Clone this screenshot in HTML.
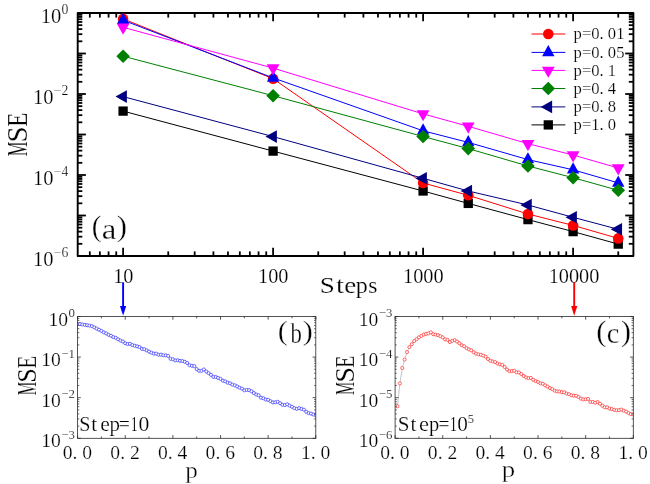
<!DOCTYPE html>
<html><head><meta charset="utf-8"><title>MSE vs Steps</title>
<style>html,body{margin:0;padding:0;background:#fff;}svg{display:block;}text{font-family:"Liberation Serif",serif;stroke:#fff;stroke-width:0.2px;paint-order:fill stroke;}.big text{stroke-width:0.3px;}</style></head>
<body>
<svg width="650" height="484" viewBox="0 0 650 484" font-family='"Liberation Serif", serif' style="will-change:transform">
<rect x="0" y="0" width="650" height="484" fill="#fff"/>
<g stroke="#000" stroke-width="1.8" fill="none">
<line x1="77.7" y1="41.31" x2="82.3" y2="41.31"/>
<line x1="633.4" y1="41.31" x2="628.8" y2="41.31"/>
<line x1="77.7" y1="34.18" x2="82.3" y2="34.18"/>
<line x1="633.4" y1="34.18" x2="628.8" y2="34.18"/>
<line x1="77.7" y1="29.12" x2="82.3" y2="29.12"/>
<line x1="633.4" y1="29.12" x2="628.8" y2="29.12"/>
<line x1="77.7" y1="25.19" x2="82.3" y2="25.19"/>
<line x1="633.4" y1="25.19" x2="628.8" y2="25.19"/>
<line x1="77.7" y1="21.98" x2="82.3" y2="21.98"/>
<line x1="633.4" y1="21.98" x2="628.8" y2="21.98"/>
<line x1="77.7" y1="19.27" x2="82.3" y2="19.27"/>
<line x1="633.4" y1="19.27" x2="628.8" y2="19.27"/>
<line x1="77.7" y1="16.92" x2="82.3" y2="16.92"/>
<line x1="633.4" y1="16.92" x2="628.8" y2="16.92"/>
<line x1="77.7" y1="14.85" x2="82.3" y2="14.85"/>
<line x1="633.4" y1="14.85" x2="628.8" y2="14.85"/>
<line x1="77.7" y1="53.50" x2="85.9" y2="53.50"/>
<line x1="633.4" y1="53.50" x2="625.1999999999999" y2="53.50"/>
<line x1="77.7" y1="81.81" x2="82.3" y2="81.81"/>
<line x1="633.4" y1="81.81" x2="628.8" y2="81.81"/>
<line x1="77.7" y1="74.68" x2="82.3" y2="74.68"/>
<line x1="633.4" y1="74.68" x2="628.8" y2="74.68"/>
<line x1="77.7" y1="69.62" x2="82.3" y2="69.62"/>
<line x1="633.4" y1="69.62" x2="628.8" y2="69.62"/>
<line x1="77.7" y1="65.69" x2="82.3" y2="65.69"/>
<line x1="633.4" y1="65.69" x2="628.8" y2="65.69"/>
<line x1="77.7" y1="62.48" x2="82.3" y2="62.48"/>
<line x1="633.4" y1="62.48" x2="628.8" y2="62.48"/>
<line x1="77.7" y1="59.77" x2="82.3" y2="59.77"/>
<line x1="633.4" y1="59.77" x2="628.8" y2="59.77"/>
<line x1="77.7" y1="57.42" x2="82.3" y2="57.42"/>
<line x1="633.4" y1="57.42" x2="628.8" y2="57.42"/>
<line x1="77.7" y1="55.35" x2="82.3" y2="55.35"/>
<line x1="633.4" y1="55.35" x2="628.8" y2="55.35"/>
<line x1="77.7" y1="94.00" x2="85.9" y2="94.00"/>
<line x1="633.4" y1="94.00" x2="625.1999999999999" y2="94.00"/>
<line x1="77.7" y1="122.31" x2="82.3" y2="122.31"/>
<line x1="633.4" y1="122.31" x2="628.8" y2="122.31"/>
<line x1="77.7" y1="115.18" x2="82.3" y2="115.18"/>
<line x1="633.4" y1="115.18" x2="628.8" y2="115.18"/>
<line x1="77.7" y1="110.12" x2="82.3" y2="110.12"/>
<line x1="633.4" y1="110.12" x2="628.8" y2="110.12"/>
<line x1="77.7" y1="106.19" x2="82.3" y2="106.19"/>
<line x1="633.4" y1="106.19" x2="628.8" y2="106.19"/>
<line x1="77.7" y1="102.98" x2="82.3" y2="102.98"/>
<line x1="633.4" y1="102.98" x2="628.8" y2="102.98"/>
<line x1="77.7" y1="100.27" x2="82.3" y2="100.27"/>
<line x1="633.4" y1="100.27" x2="628.8" y2="100.27"/>
<line x1="77.7" y1="97.92" x2="82.3" y2="97.92"/>
<line x1="633.4" y1="97.92" x2="628.8" y2="97.92"/>
<line x1="77.7" y1="95.85" x2="82.3" y2="95.85"/>
<line x1="633.4" y1="95.85" x2="628.8" y2="95.85"/>
<line x1="77.7" y1="134.50" x2="85.9" y2="134.50"/>
<line x1="633.4" y1="134.50" x2="625.1999999999999" y2="134.50"/>
<line x1="77.7" y1="162.81" x2="82.3" y2="162.81"/>
<line x1="633.4" y1="162.81" x2="628.8" y2="162.81"/>
<line x1="77.7" y1="155.68" x2="82.3" y2="155.68"/>
<line x1="633.4" y1="155.68" x2="628.8" y2="155.68"/>
<line x1="77.7" y1="150.62" x2="82.3" y2="150.62"/>
<line x1="633.4" y1="150.62" x2="628.8" y2="150.62"/>
<line x1="77.7" y1="146.69" x2="82.3" y2="146.69"/>
<line x1="633.4" y1="146.69" x2="628.8" y2="146.69"/>
<line x1="77.7" y1="143.48" x2="82.3" y2="143.48"/>
<line x1="633.4" y1="143.48" x2="628.8" y2="143.48"/>
<line x1="77.7" y1="140.77" x2="82.3" y2="140.77"/>
<line x1="633.4" y1="140.77" x2="628.8" y2="140.77"/>
<line x1="77.7" y1="138.42" x2="82.3" y2="138.42"/>
<line x1="633.4" y1="138.42" x2="628.8" y2="138.42"/>
<line x1="77.7" y1="136.35" x2="82.3" y2="136.35"/>
<line x1="633.4" y1="136.35" x2="628.8" y2="136.35"/>
<line x1="77.7" y1="175.00" x2="85.9" y2="175.00"/>
<line x1="633.4" y1="175.00" x2="625.1999999999999" y2="175.00"/>
<line x1="77.7" y1="203.31" x2="82.3" y2="203.31"/>
<line x1="633.4" y1="203.31" x2="628.8" y2="203.31"/>
<line x1="77.7" y1="196.18" x2="82.3" y2="196.18"/>
<line x1="633.4" y1="196.18" x2="628.8" y2="196.18"/>
<line x1="77.7" y1="191.12" x2="82.3" y2="191.12"/>
<line x1="633.4" y1="191.12" x2="628.8" y2="191.12"/>
<line x1="77.7" y1="187.19" x2="82.3" y2="187.19"/>
<line x1="633.4" y1="187.19" x2="628.8" y2="187.19"/>
<line x1="77.7" y1="183.98" x2="82.3" y2="183.98"/>
<line x1="633.4" y1="183.98" x2="628.8" y2="183.98"/>
<line x1="77.7" y1="181.27" x2="82.3" y2="181.27"/>
<line x1="633.4" y1="181.27" x2="628.8" y2="181.27"/>
<line x1="77.7" y1="178.92" x2="82.3" y2="178.92"/>
<line x1="633.4" y1="178.92" x2="628.8" y2="178.92"/>
<line x1="77.7" y1="176.85" x2="82.3" y2="176.85"/>
<line x1="633.4" y1="176.85" x2="628.8" y2="176.85"/>
<line x1="77.7" y1="215.50" x2="85.9" y2="215.50"/>
<line x1="633.4" y1="215.50" x2="625.1999999999999" y2="215.50"/>
<line x1="77.7" y1="243.81" x2="82.3" y2="243.81"/>
<line x1="633.4" y1="243.81" x2="628.8" y2="243.81"/>
<line x1="77.7" y1="236.68" x2="82.3" y2="236.68"/>
<line x1="633.4" y1="236.68" x2="628.8" y2="236.68"/>
<line x1="77.7" y1="231.62" x2="82.3" y2="231.62"/>
<line x1="633.4" y1="231.62" x2="628.8" y2="231.62"/>
<line x1="77.7" y1="227.69" x2="82.3" y2="227.69"/>
<line x1="633.4" y1="227.69" x2="628.8" y2="227.69"/>
<line x1="77.7" y1="224.48" x2="82.3" y2="224.48"/>
<line x1="633.4" y1="224.48" x2="628.8" y2="224.48"/>
<line x1="77.7" y1="221.77" x2="82.3" y2="221.77"/>
<line x1="633.4" y1="221.77" x2="628.8" y2="221.77"/>
<line x1="77.7" y1="219.42" x2="82.3" y2="219.42"/>
<line x1="633.4" y1="219.42" x2="628.8" y2="219.42"/>
<line x1="77.7" y1="217.35" x2="82.3" y2="217.35"/>
<line x1="633.4" y1="217.35" x2="628.8" y2="217.35"/>
<line x1="89.82" y1="256.0" x2="89.82" y2="251.4"/>
<line x1="89.82" y1="13.0" x2="89.82" y2="17.6"/>
<line x1="99.86" y1="256.0" x2="99.86" y2="251.4"/>
<line x1="99.86" y1="13.0" x2="99.86" y2="17.6"/>
<line x1="108.56" y1="256.0" x2="108.56" y2="251.4"/>
<line x1="108.56" y1="13.0" x2="108.56" y2="17.6"/>
<line x1="116.24" y1="256.0" x2="116.24" y2="251.4"/>
<line x1="116.24" y1="13.0" x2="116.24" y2="17.6"/>
<line x1="123.10" y1="256.0" x2="123.10" y2="247.8"/>
<line x1="123.10" y1="13.0" x2="123.10" y2="21.2"/>
<line x1="168.25" y1="256.0" x2="168.25" y2="251.4"/>
<line x1="168.25" y1="13.0" x2="168.25" y2="17.6"/>
<line x1="194.67" y1="256.0" x2="194.67" y2="251.4"/>
<line x1="194.67" y1="13.0" x2="194.67" y2="17.6"/>
<line x1="213.41" y1="256.0" x2="213.41" y2="251.4"/>
<line x1="213.41" y1="13.0" x2="213.41" y2="17.6"/>
<line x1="227.95" y1="256.0" x2="227.95" y2="251.4"/>
<line x1="227.95" y1="13.0" x2="227.95" y2="17.6"/>
<line x1="239.82" y1="256.0" x2="239.82" y2="251.4"/>
<line x1="239.82" y1="13.0" x2="239.82" y2="17.6"/>
<line x1="249.86" y1="256.0" x2="249.86" y2="251.4"/>
<line x1="249.86" y1="13.0" x2="249.86" y2="17.6"/>
<line x1="258.56" y1="256.0" x2="258.56" y2="251.4"/>
<line x1="258.56" y1="13.0" x2="258.56" y2="17.6"/>
<line x1="266.24" y1="256.0" x2="266.24" y2="251.4"/>
<line x1="266.24" y1="13.0" x2="266.24" y2="17.6"/>
<line x1="273.10" y1="256.0" x2="273.10" y2="247.8"/>
<line x1="273.10" y1="13.0" x2="273.10" y2="21.2"/>
<line x1="318.25" y1="256.0" x2="318.25" y2="251.4"/>
<line x1="318.25" y1="13.0" x2="318.25" y2="17.6"/>
<line x1="344.67" y1="256.0" x2="344.67" y2="251.4"/>
<line x1="344.67" y1="13.0" x2="344.67" y2="17.6"/>
<line x1="363.41" y1="256.0" x2="363.41" y2="251.4"/>
<line x1="363.41" y1="13.0" x2="363.41" y2="17.6"/>
<line x1="377.95" y1="256.0" x2="377.95" y2="251.4"/>
<line x1="377.95" y1="13.0" x2="377.95" y2="17.6"/>
<line x1="389.82" y1="256.0" x2="389.82" y2="251.4"/>
<line x1="389.82" y1="13.0" x2="389.82" y2="17.6"/>
<line x1="399.86" y1="256.0" x2="399.86" y2="251.4"/>
<line x1="399.86" y1="13.0" x2="399.86" y2="17.6"/>
<line x1="408.56" y1="256.0" x2="408.56" y2="251.4"/>
<line x1="408.56" y1="13.0" x2="408.56" y2="17.6"/>
<line x1="416.24" y1="256.0" x2="416.24" y2="251.4"/>
<line x1="416.24" y1="13.0" x2="416.24" y2="17.6"/>
<line x1="423.10" y1="256.0" x2="423.10" y2="247.8"/>
<line x1="423.10" y1="13.0" x2="423.10" y2="21.2"/>
<line x1="468.25" y1="256.0" x2="468.25" y2="251.4"/>
<line x1="468.25" y1="13.0" x2="468.25" y2="17.6"/>
<line x1="494.67" y1="256.0" x2="494.67" y2="251.4"/>
<line x1="494.67" y1="13.0" x2="494.67" y2="17.6"/>
<line x1="513.41" y1="256.0" x2="513.41" y2="251.4"/>
<line x1="513.41" y1="13.0" x2="513.41" y2="17.6"/>
<line x1="527.95" y1="256.0" x2="527.95" y2="251.4"/>
<line x1="527.95" y1="13.0" x2="527.95" y2="17.6"/>
<line x1="539.82" y1="256.0" x2="539.82" y2="251.4"/>
<line x1="539.82" y1="13.0" x2="539.82" y2="17.6"/>
<line x1="549.86" y1="256.0" x2="549.86" y2="251.4"/>
<line x1="549.86" y1="13.0" x2="549.86" y2="17.6"/>
<line x1="558.56" y1="256.0" x2="558.56" y2="251.4"/>
<line x1="558.56" y1="13.0" x2="558.56" y2="17.6"/>
<line x1="566.24" y1="256.0" x2="566.24" y2="251.4"/>
<line x1="566.24" y1="13.0" x2="566.24" y2="17.6"/>
<line x1="573.10" y1="256.0" x2="573.10" y2="247.8"/>
<line x1="573.10" y1="13.0" x2="573.10" y2="21.2"/>
<line x1="618.25" y1="256.0" x2="618.25" y2="251.4"/>
<line x1="618.25" y1="13.0" x2="618.25" y2="17.6"/>
</g>
<rect x="77.7" y="13.0" width="555.70" height="243.00" fill="none" stroke="#000" stroke-width="1.9" stroke-linejoin="round"/>
<polyline points="123.10,111.10 273.10,151.10 423.10,191.00 468.25,203.40 527.95,219.60 573.10,231.60 618.25,244.10" fill="none" stroke="#000000" stroke-width="1.0"/>
<rect x="118.45" y="106.45" width="9.30" height="9.30" fill="#000000"/>
<rect x="268.45" y="146.45" width="9.30" height="9.30" fill="#000000"/>
<rect x="418.45" y="186.35" width="9.30" height="9.30" fill="#000000"/>
<rect x="463.60" y="198.75" width="9.30" height="9.30" fill="#000000"/>
<rect x="523.30" y="214.95" width="9.30" height="9.30" fill="#000000"/>
<rect x="568.45" y="226.95" width="9.30" height="9.30" fill="#000000"/>
<rect x="613.60" y="239.45" width="9.30" height="9.30" fill="#000000"/>
<polyline points="123.10,18.90 273.10,78.70 423.10,183.00 468.25,195.30 527.95,214.00 573.10,225.40 618.25,238.40" fill="none" stroke="#ff0000" stroke-width="1.0"/>
<circle cx="123.10" cy="18.90" r="5.3" fill="#ff0000"/>
<circle cx="273.10" cy="78.70" r="5.3" fill="#ff0000"/>
<circle cx="423.10" cy="183.00" r="5.3" fill="#ff0000"/>
<circle cx="468.25" cy="195.30" r="5.3" fill="#ff0000"/>
<circle cx="527.95" cy="214.00" r="5.3" fill="#ff0000"/>
<circle cx="573.10" cy="225.40" r="5.3" fill="#ff0000"/>
<circle cx="618.25" cy="238.40" r="5.3" fill="#ff0000"/>
<polyline points="123.10,20.20 273.10,77.90 423.10,130.80 468.25,142.40 527.95,159.60 573.10,169.80 618.25,182.90" fill="none" stroke="#0000ff" stroke-width="1.0"/>
<polygon points="123.10,12.73 116.90,23.93 129.30,23.93" fill="#0000ff"/>
<polygon points="273.10,70.43 266.90,81.63 279.30,81.63" fill="#0000ff"/>
<polygon points="423.10,123.33 416.90,134.53 429.30,134.53" fill="#0000ff"/>
<polygon points="468.25,134.93 462.05,146.13 474.45,146.13" fill="#0000ff"/>
<polygon points="527.95,152.13 521.75,163.33 534.15,163.33" fill="#0000ff"/>
<polygon points="573.10,162.33 566.90,173.53 579.30,173.53" fill="#0000ff"/>
<polygon points="618.25,175.43 612.05,186.63 624.45,186.63" fill="#0000ff"/>
<polyline points="123.10,27.30 273.10,68.10 423.10,113.90 468.25,126.30 527.95,143.70 573.10,155.00 618.25,168.00" fill="none" stroke="#ff00ff" stroke-width="1.0"/>
<polygon points="123.10,34.77 116.70,23.57 129.50,23.57" fill="#ff00ff"/>
<polygon points="273.10,75.57 266.70,64.37 279.50,64.37" fill="#ff00ff"/>
<polygon points="423.10,121.37 416.70,110.17 429.50,110.17" fill="#ff00ff"/>
<polygon points="468.25,133.77 461.85,122.57 474.65,122.57" fill="#ff00ff"/>
<polygon points="527.95,151.17 521.55,139.97 534.35,139.97" fill="#ff00ff"/>
<polygon points="573.10,162.47 566.70,151.27 579.50,151.27" fill="#ff00ff"/>
<polygon points="618.25,175.47 611.85,164.27 624.65,164.27" fill="#ff00ff"/>
<polyline points="123.10,56.20 273.10,95.70 423.10,136.50 468.25,148.60 527.95,166.00 573.10,177.70 618.25,190.30" fill="none" stroke="#008000" stroke-width="1.0"/>
<polygon points="123.10,49.40 129.90,56.20 123.10,63.00 116.30,56.20" fill="#008000"/>
<polygon points="273.10,88.90 279.90,95.70 273.10,102.50 266.30,95.70" fill="#008000"/>
<polygon points="423.10,129.70 429.90,136.50 423.10,143.30 416.30,136.50" fill="#008000"/>
<polygon points="468.25,141.80 475.05,148.60 468.25,155.40 461.45,148.60" fill="#008000"/>
<polygon points="527.95,159.20 534.75,166.00 527.95,172.80 521.15,166.00" fill="#008000"/>
<polygon points="573.10,170.90 579.90,177.70 573.10,184.50 566.30,177.70" fill="#008000"/>
<polygon points="618.25,183.50 625.05,190.30 618.25,197.10 611.45,190.30" fill="#008000"/>
<polyline points="123.10,96.60 273.10,136.60 423.10,178.30 468.25,191.00 527.95,205.00 573.10,217.30 618.25,229.30" fill="none" stroke="#000080" stroke-width="1.0"/>
<polygon points="115.50,96.60 126.90,90.30 126.90,102.90" fill="#000080"/>
<polygon points="265.50,136.60 276.90,130.30 276.90,142.90" fill="#000080"/>
<polygon points="415.50,178.30 426.90,172.00 426.90,184.60" fill="#000080"/>
<polygon points="460.65,191.00 472.05,184.70 472.05,197.30" fill="#000080"/>
<polygon points="520.35,205.00 531.75,198.70 531.75,211.30" fill="#000080"/>
<polygon points="565.50,217.30 576.90,211.00 576.90,223.60" fill="#000080"/>
<polygon points="610.65,229.30 622.05,223.00 622.05,235.60" fill="#000080"/>
<text x="68.30" y="14.20" font-size="13.7" text-anchor="end" fill="#000" >0</text>
<text x="61.15" y="22.80" font-size="20.5" text-anchor="end" fill="#000" >10</text>
<text x="68.30" y="95.20" font-size="13.7" text-anchor="end" fill="#000" >−2</text>
<text x="53.42" y="103.80" font-size="20.5" text-anchor="end" fill="#000" >10</text>
<text x="68.30" y="176.20" font-size="13.7" text-anchor="end" fill="#000" >−4</text>
<text x="53.42" y="184.80" font-size="20.5" text-anchor="end" fill="#000" >10</text>
<text x="68.30" y="257.20" font-size="13.7" text-anchor="end" fill="#000" >−6</text>
<text x="53.42" y="265.80" font-size="20.5" text-anchor="end" fill="#000" >10</text>
<text x="123.30" y="282.90" font-size="20.3" text-anchor="middle" fill="#000" >10</text>
<text x="273.30" y="282.90" font-size="20.3" text-anchor="middle" fill="#000" >100</text>
<text x="423.30" y="282.90" font-size="20.3" text-anchor="middle" fill="#000" >1000</text>
<text x="574.00" y="282.90" font-size="20.3" text-anchor="middle" fill="#000" >10000</text>
<text transform="translate(319.68,292.60) scale(1.186,1.0)" font-size="22.9">S</text>
<text transform="translate(335.92,292.60) scale(1.266,1.0)" font-size="22.9">t</text>
<text transform="translate(344.34,292.60) scale(1.180,1.0)" font-size="22.9">e</text>
<text transform="translate(355.81,292.60) scale(1.050,1.0)" font-size="22.9">p</text>
<text transform="translate(368.23,292.60) scale(1.036,1.0)" font-size="22.9">s</text>
<text transform="translate(27.20,156.18) rotate(-90) scale(0.567,1)" font-size="29.3">M</text>
<text transform="translate(27.20,142.43) rotate(-90) scale(0.983,1)" font-size="29.3">S</text>
<text transform="translate(27.20,126.67) rotate(-90) scale(0.789,1)" font-size="29.3">E</text>
<g class="big">
<text transform="translate(91.72,235.90) scale(1.014,1.0)" font-size="28.8">(</text>
<text transform="translate(101.84,238.80) scale(1.112,1.0)" font-size="29.6">a</text>
<text transform="translate(116.81,235.90) scale(1.068,1.0)" font-size="28.8">)</text>
<text transform="translate(277.87,340.00) scale(1.081,1.0)" font-size="28.1">(</text>
<text transform="translate(290.40,342.60) scale(0.781,1.0)" font-size="29.1">b</text>
<text transform="translate(302.72,340.00) scale(1.081,1.0)" font-size="28.1">)</text>
<text transform="translate(596.15,340.50) scale(1.068,1.0)" font-size="28.8">(</text>
<text transform="translate(606.72,343.40) scale(0.942,1.0)" font-size="30.0">c</text>
<text transform="translate(620.93,340.50) scale(1.041,1.0)" font-size="28.8">)</text>
</g>
<line x1="531.5" y1="34.0" x2="565.3" y2="34.0" stroke="#ff0000" stroke-width="1.0"/>
<circle cx="548.30" cy="34.00" r="5.3" fill="#ff0000"/>
<text x="573.60" y="39.40" font-size="16.6" text-anchor="start" fill="#000" >p=0. 01</text>
<line x1="531.5" y1="52.4" x2="565.3" y2="52.4" stroke="#0000ff" stroke-width="1.0"/>
<polygon points="548.30,44.93 542.10,56.13 554.50,56.13" fill="#0000ff"/>
<text x="573.60" y="57.80" font-size="16.6" text-anchor="start" fill="#000" >p=0. 05</text>
<line x1="531.5" y1="70.4" x2="565.3" y2="70.4" stroke="#ff00ff" stroke-width="1.0"/>
<polygon points="548.30,77.87 541.90,66.67 554.70,66.67" fill="#ff00ff"/>
<text x="573.60" y="75.80" font-size="16.6" text-anchor="start" fill="#000" >p=0. 1</text>
<line x1="531.5" y1="88.5" x2="565.3" y2="88.5" stroke="#008000" stroke-width="1.0"/>
<polygon points="548.30,81.70 555.10,88.50 548.30,95.30 541.50,88.50" fill="#008000"/>
<text x="573.60" y="93.90" font-size="16.6" text-anchor="start" fill="#000" >p=0. 4</text>
<line x1="531.5" y1="106.9" x2="565.3" y2="106.9" stroke="#000080" stroke-width="1.0"/>
<polygon points="540.70,106.90 552.10,100.60 552.10,113.20" fill="#000080"/>
<text x="573.60" y="112.30" font-size="16.6" text-anchor="start" fill="#000" >p=0. 8</text>
<line x1="531.5" y1="124.9" x2="565.3" y2="124.9" stroke="#000000" stroke-width="1.0"/>
<rect x="543.65" y="120.25" width="9.30" height="9.30" fill="#000000"/>
<text x="573.60" y="130.30" font-size="16.6" text-anchor="start" fill="#000" >p=1. 0</text>
<line x1="123.1" y1="282.3" x2="123.1" y2="307.8" stroke="#0000ff" stroke-width="1.9"/>
<polygon points="120.0,306.0 126.19999999999999,306.0 123.1,315.8" fill="#0000ff"/>
<line x1="574.2" y1="282.3" x2="574.2" y2="307.8" stroke="#ff0000" stroke-width="1.9"/>
<polygon points="571.1,306.0 577.3000000000001,306.0 574.2,315.8" fill="#ff0000"/>
<clipPath id="clip3"><rect x="77.6" y="316.5" width="238.20" height="121.80"/></clipPath>
<g clip-path="url(#clip3)">
<polyline points="79.98,324.08 82.36,324.45 84.75,324.81 87.13,325.18 89.51,325.55 91.89,326.17 94.27,327.36 96.66,328.56 99.04,329.73 101.42,330.92 103.80,332.37 106.18,333.42 108.57,334.80 110.95,335.78 113.33,337.08 115.71,337.76 118.09,339.27 120.48,340.61 122.86,341.51 125.24,343.19 127.62,344.04 130.00,343.84 132.39,345.08 134.77,345.74 137.15,346.38 139.53,347.05 141.91,348.84 144.30,349.20 146.68,350.33 149.06,351.68 151.44,352.67 153.82,353.63 156.21,353.64 158.59,354.69 160.97,354.61 163.35,355.28 165.73,355.34 168.12,355.88 170.50,358.87 172.88,359.29 175.26,360.44 177.64,360.20 180.03,360.86 182.41,361.03 184.79,361.80 187.17,362.94 189.55,365.23 191.94,365.80 194.32,366.10 196.70,369.07 199.08,370.84 201.46,370.88 203.85,369.46 206.23,371.50 208.61,373.15 210.99,374.87 213.37,376.90 215.76,377.01 218.14,377.86 220.52,378.85 222.90,380.70 225.28,381.32 227.67,382.67 230.05,383.29 232.43,384.62 234.81,385.34 237.19,386.47 239.58,387.73 241.96,388.63 244.34,390.33 246.72,389.90 249.10,390.13 251.49,391.30 253.87,393.05 256.25,394.55 258.63,395.25 261.01,397.67 263.40,398.22 265.78,399.57 268.16,399.83 270.54,401.18 272.92,402.39 275.31,402.27 277.69,401.79 280.07,403.23 282.45,404.79 284.83,405.07 287.22,404.33 289.60,405.56 291.98,406.84 294.36,408.18 296.74,408.83 299.13,408.16 301.51,408.95 303.89,409.69 306.27,411.77 308.65,413.11 311.04,413.61 313.42,414.49 315.80,415.32" fill="none" stroke="#888" stroke-width="0.5"/>
<g fill="#fff" stroke="#3030ff" stroke-width="0.7">
<circle cx="79.98" cy="324.08" r="1.55"/>
<circle cx="82.36" cy="324.45" r="1.55"/>
<circle cx="84.75" cy="324.81" r="1.55"/>
<circle cx="87.13" cy="325.18" r="1.55"/>
<circle cx="89.51" cy="325.55" r="1.55"/>
<circle cx="91.89" cy="326.17" r="1.55"/>
<circle cx="94.27" cy="327.36" r="1.55"/>
<circle cx="96.66" cy="328.56" r="1.55"/>
<circle cx="99.04" cy="329.73" r="1.55"/>
<circle cx="101.42" cy="330.92" r="1.55"/>
<circle cx="103.80" cy="332.37" r="1.55"/>
<circle cx="106.18" cy="333.42" r="1.55"/>
<circle cx="108.57" cy="334.80" r="1.55"/>
<circle cx="110.95" cy="335.78" r="1.55"/>
<circle cx="113.33" cy="337.08" r="1.55"/>
<circle cx="115.71" cy="337.76" r="1.55"/>
<circle cx="118.09" cy="339.27" r="1.55"/>
<circle cx="120.48" cy="340.61" r="1.55"/>
<circle cx="122.86" cy="341.51" r="1.55"/>
<circle cx="125.24" cy="343.19" r="1.55"/>
<circle cx="127.62" cy="344.04" r="1.55"/>
<circle cx="130.00" cy="343.84" r="1.55"/>
<circle cx="132.39" cy="345.08" r="1.55"/>
<circle cx="134.77" cy="345.74" r="1.55"/>
<circle cx="137.15" cy="346.38" r="1.55"/>
<circle cx="139.53" cy="347.05" r="1.55"/>
<circle cx="141.91" cy="348.84" r="1.55"/>
<circle cx="144.30" cy="349.20" r="1.55"/>
<circle cx="146.68" cy="350.33" r="1.55"/>
<circle cx="149.06" cy="351.68" r="1.55"/>
<circle cx="151.44" cy="352.67" r="1.55"/>
<circle cx="153.82" cy="353.63" r="1.55"/>
<circle cx="156.21" cy="353.64" r="1.55"/>
<circle cx="158.59" cy="354.69" r="1.55"/>
<circle cx="160.97" cy="354.61" r="1.55"/>
<circle cx="163.35" cy="355.28" r="1.55"/>
<circle cx="165.73" cy="355.34" r="1.55"/>
<circle cx="168.12" cy="355.88" r="1.55"/>
<circle cx="170.50" cy="358.87" r="1.55"/>
<circle cx="172.88" cy="359.29" r="1.55"/>
<circle cx="175.26" cy="360.44" r="1.55"/>
<circle cx="177.64" cy="360.20" r="1.55"/>
<circle cx="180.03" cy="360.86" r="1.55"/>
<circle cx="182.41" cy="361.03" r="1.55"/>
<circle cx="184.79" cy="361.80" r="1.55"/>
<circle cx="187.17" cy="362.94" r="1.55"/>
<circle cx="189.55" cy="365.23" r="1.55"/>
<circle cx="191.94" cy="365.80" r="1.55"/>
<circle cx="194.32" cy="366.10" r="1.55"/>
<circle cx="196.70" cy="369.07" r="1.55"/>
<circle cx="199.08" cy="370.84" r="1.55"/>
<circle cx="201.46" cy="370.88" r="1.55"/>
<circle cx="203.85" cy="369.46" r="1.55"/>
<circle cx="206.23" cy="371.50" r="1.55"/>
<circle cx="208.61" cy="373.15" r="1.55"/>
<circle cx="210.99" cy="374.87" r="1.55"/>
<circle cx="213.37" cy="376.90" r="1.55"/>
<circle cx="215.76" cy="377.01" r="1.55"/>
<circle cx="218.14" cy="377.86" r="1.55"/>
<circle cx="220.52" cy="378.85" r="1.55"/>
<circle cx="222.90" cy="380.70" r="1.55"/>
<circle cx="225.28" cy="381.32" r="1.55"/>
<circle cx="227.67" cy="382.67" r="1.55"/>
<circle cx="230.05" cy="383.29" r="1.55"/>
<circle cx="232.43" cy="384.62" r="1.55"/>
<circle cx="234.81" cy="385.34" r="1.55"/>
<circle cx="237.19" cy="386.47" r="1.55"/>
<circle cx="239.58" cy="387.73" r="1.55"/>
<circle cx="241.96" cy="388.63" r="1.55"/>
<circle cx="244.34" cy="390.33" r="1.55"/>
<circle cx="246.72" cy="389.90" r="1.55"/>
<circle cx="249.10" cy="390.13" r="1.55"/>
<circle cx="251.49" cy="391.30" r="1.55"/>
<circle cx="253.87" cy="393.05" r="1.55"/>
<circle cx="256.25" cy="394.55" r="1.55"/>
<circle cx="258.63" cy="395.25" r="1.55"/>
<circle cx="261.01" cy="397.67" r="1.55"/>
<circle cx="263.40" cy="398.22" r="1.55"/>
<circle cx="265.78" cy="399.57" r="1.55"/>
<circle cx="268.16" cy="399.83" r="1.55"/>
<circle cx="270.54" cy="401.18" r="1.55"/>
<circle cx="272.92" cy="402.39" r="1.55"/>
<circle cx="275.31" cy="402.27" r="1.55"/>
<circle cx="277.69" cy="401.79" r="1.55"/>
<circle cx="280.07" cy="403.23" r="1.55"/>
<circle cx="282.45" cy="404.79" r="1.55"/>
<circle cx="284.83" cy="405.07" r="1.55"/>
<circle cx="287.22" cy="404.33" r="1.55"/>
<circle cx="289.60" cy="405.56" r="1.55"/>
<circle cx="291.98" cy="406.84" r="1.55"/>
<circle cx="294.36" cy="408.18" r="1.55"/>
<circle cx="296.74" cy="408.83" r="1.55"/>
<circle cx="299.13" cy="408.16" r="1.55"/>
<circle cx="301.51" cy="408.95" r="1.55"/>
<circle cx="303.89" cy="409.69" r="1.55"/>
<circle cx="306.27" cy="411.77" r="1.55"/>
<circle cx="308.65" cy="413.11" r="1.55"/>
<circle cx="311.04" cy="413.61" r="1.55"/>
<circle cx="313.42" cy="414.49" r="1.55"/>
<circle cx="315.80" cy="415.32" r="1.55"/>
</g></g>
<g stroke="#2a2a2a" stroke-width="0.8" fill="none">
<rect x="77.6" y="316.5" width="238.20" height="121.80"/>
<line x1="77.6" y1="316.50" x2="80.8" y2="316.50"/>
<line x1="315.8" y1="316.50" x2="312.6" y2="316.50"/>
<line x1="77.6" y1="344.88" x2="79.3" y2="344.88" stroke-width="0.7"/>
<line x1="315.8" y1="344.88" x2="314.1" y2="344.88" stroke-width="0.7"/>
<line x1="77.6" y1="337.73" x2="79.3" y2="337.73" stroke-width="0.7"/>
<line x1="315.8" y1="337.73" x2="314.1" y2="337.73" stroke-width="0.7"/>
<line x1="77.6" y1="332.66" x2="79.3" y2="332.66" stroke-width="0.7"/>
<line x1="315.8" y1="332.66" x2="314.1" y2="332.66" stroke-width="0.7"/>
<line x1="77.6" y1="328.72" x2="79.3" y2="328.72" stroke-width="0.7"/>
<line x1="315.8" y1="328.72" x2="314.1" y2="328.72" stroke-width="0.7"/>
<line x1="77.6" y1="325.51" x2="79.3" y2="325.51" stroke-width="0.7"/>
<line x1="315.8" y1="325.51" x2="314.1" y2="325.51" stroke-width="0.7"/>
<line x1="77.6" y1="322.79" x2="79.3" y2="322.79" stroke-width="0.7"/>
<line x1="315.8" y1="322.79" x2="314.1" y2="322.79" stroke-width="0.7"/>
<line x1="77.6" y1="320.43" x2="79.3" y2="320.43" stroke-width="0.7"/>
<line x1="315.8" y1="320.43" x2="314.1" y2="320.43" stroke-width="0.7"/>
<line x1="77.6" y1="318.36" x2="79.3" y2="318.36" stroke-width="0.7"/>
<line x1="315.8" y1="318.36" x2="314.1" y2="318.36" stroke-width="0.7"/>
<line x1="77.6" y1="357.10" x2="80.8" y2="357.10"/>
<line x1="315.8" y1="357.10" x2="312.6" y2="357.10"/>
<line x1="77.6" y1="385.48" x2="79.3" y2="385.48" stroke-width="0.7"/>
<line x1="315.8" y1="385.48" x2="314.1" y2="385.48" stroke-width="0.7"/>
<line x1="77.6" y1="378.33" x2="79.3" y2="378.33" stroke-width="0.7"/>
<line x1="315.8" y1="378.33" x2="314.1" y2="378.33" stroke-width="0.7"/>
<line x1="77.6" y1="373.26" x2="79.3" y2="373.26" stroke-width="0.7"/>
<line x1="315.8" y1="373.26" x2="314.1" y2="373.26" stroke-width="0.7"/>
<line x1="77.6" y1="369.32" x2="79.3" y2="369.32" stroke-width="0.7"/>
<line x1="315.8" y1="369.32" x2="314.1" y2="369.32" stroke-width="0.7"/>
<line x1="77.6" y1="366.11" x2="79.3" y2="366.11" stroke-width="0.7"/>
<line x1="315.8" y1="366.11" x2="314.1" y2="366.11" stroke-width="0.7"/>
<line x1="77.6" y1="363.39" x2="79.3" y2="363.39" stroke-width="0.7"/>
<line x1="315.8" y1="363.39" x2="314.1" y2="363.39" stroke-width="0.7"/>
<line x1="77.6" y1="361.03" x2="79.3" y2="361.03" stroke-width="0.7"/>
<line x1="315.8" y1="361.03" x2="314.1" y2="361.03" stroke-width="0.7"/>
<line x1="77.6" y1="358.96" x2="79.3" y2="358.96" stroke-width="0.7"/>
<line x1="315.8" y1="358.96" x2="314.1" y2="358.96" stroke-width="0.7"/>
<line x1="77.6" y1="397.70" x2="80.8" y2="397.70"/>
<line x1="315.8" y1="397.70" x2="312.6" y2="397.70"/>
<line x1="77.6" y1="426.08" x2="79.3" y2="426.08" stroke-width="0.7"/>
<line x1="315.8" y1="426.08" x2="314.1" y2="426.08" stroke-width="0.7"/>
<line x1="77.6" y1="418.93" x2="79.3" y2="418.93" stroke-width="0.7"/>
<line x1="315.8" y1="418.93" x2="314.1" y2="418.93" stroke-width="0.7"/>
<line x1="77.6" y1="413.86" x2="79.3" y2="413.86" stroke-width="0.7"/>
<line x1="315.8" y1="413.86" x2="314.1" y2="413.86" stroke-width="0.7"/>
<line x1="77.6" y1="409.92" x2="79.3" y2="409.92" stroke-width="0.7"/>
<line x1="315.8" y1="409.92" x2="314.1" y2="409.92" stroke-width="0.7"/>
<line x1="77.6" y1="406.71" x2="79.3" y2="406.71" stroke-width="0.7"/>
<line x1="315.8" y1="406.71" x2="314.1" y2="406.71" stroke-width="0.7"/>
<line x1="77.6" y1="403.99" x2="79.3" y2="403.99" stroke-width="0.7"/>
<line x1="315.8" y1="403.99" x2="314.1" y2="403.99" stroke-width="0.7"/>
<line x1="77.6" y1="401.63" x2="79.3" y2="401.63" stroke-width="0.7"/>
<line x1="315.8" y1="401.63" x2="314.1" y2="401.63" stroke-width="0.7"/>
<line x1="77.6" y1="399.56" x2="79.3" y2="399.56" stroke-width="0.7"/>
<line x1="315.8" y1="399.56" x2="314.1" y2="399.56" stroke-width="0.7"/>
<line x1="77.6" y1="438.30" x2="80.8" y2="438.30"/>
<line x1="315.8" y1="438.30" x2="312.6" y2="438.30"/>
<line x1="77.60" y1="438.3" x2="77.60" y2="435.1"/>
<line x1="77.60" y1="316.5" x2="77.60" y2="319.7"/>
<line x1="101.42" y1="438.3" x2="101.42" y2="436.5"/>
<line x1="101.42" y1="316.5" x2="101.42" y2="318.3"/>
<line x1="125.24" y1="438.3" x2="125.24" y2="435.1"/>
<line x1="125.24" y1="316.5" x2="125.24" y2="319.7"/>
<line x1="149.06" y1="438.3" x2="149.06" y2="436.5"/>
<line x1="149.06" y1="316.5" x2="149.06" y2="318.3"/>
<line x1="172.88" y1="438.3" x2="172.88" y2="435.1"/>
<line x1="172.88" y1="316.5" x2="172.88" y2="319.7"/>
<line x1="196.70" y1="438.3" x2="196.70" y2="436.5"/>
<line x1="196.70" y1="316.5" x2="196.70" y2="318.3"/>
<line x1="220.52" y1="438.3" x2="220.52" y2="435.1"/>
<line x1="220.52" y1="316.5" x2="220.52" y2="319.7"/>
<line x1="244.34" y1="438.3" x2="244.34" y2="436.5"/>
<line x1="244.34" y1="316.5" x2="244.34" y2="318.3"/>
<line x1="268.16" y1="438.3" x2="268.16" y2="435.1"/>
<line x1="268.16" y1="316.5" x2="268.16" y2="319.7"/>
<line x1="291.98" y1="438.3" x2="291.98" y2="436.5"/>
<line x1="291.98" y1="316.5" x2="291.98" y2="318.3"/>
<line x1="315.80" y1="438.3" x2="315.80" y2="435.1"/>
<line x1="315.80" y1="316.5" x2="315.80" y2="319.7"/>
</g>
<text x="74.80" y="317.20" font-size="12.8" text-anchor="end" fill="#000" >0</text>
<text x="68.10" y="325.50" font-size="19.6" text-anchor="end" fill="#000" >10</text>
<text x="74.80" y="357.80" font-size="12.8" text-anchor="end" fill="#000" >−1</text>
<text x="60.88" y="366.10" font-size="19.6" text-anchor="end" fill="#000" >10</text>
<text x="74.80" y="398.40" font-size="12.8" text-anchor="end" fill="#000" >−2</text>
<text x="60.88" y="406.70" font-size="19.6" text-anchor="end" fill="#000" >10</text>
<text x="74.80" y="439.00" font-size="12.8" text-anchor="end" fill="#000" >−3</text>
<text x="60.88" y="447.30" font-size="19.6" text-anchor="end" fill="#000" >10</text>
<text x="77.40" y="458.60" font-size="19.6" text-anchor="middle" fill="#000" >0. 0</text>
<text x="125.04" y="458.60" font-size="19.6" text-anchor="middle" fill="#000" >0. 2</text>
<text x="172.68" y="458.60" font-size="19.6" text-anchor="middle" fill="#000" >0. 4</text>
<text x="220.32" y="458.60" font-size="19.6" text-anchor="middle" fill="#000" >0. 6</text>
<text x="267.96" y="458.60" font-size="19.6" text-anchor="middle" fill="#000" >0. 8</text>
<text x="315.60" y="458.60" font-size="19.6" text-anchor="middle" fill="#000" >1. 0</text>
<clipPath id="clip7"><rect x="395.1" y="316.5" width="238.20" height="121.80"/></clipPath>
<g clip-path="url(#clip7)">
<polyline points="397.48,406.30 399.86,383.45 402.25,368.04 404.63,359.51 407.01,352.08 409.39,347.12 411.77,344.23 414.16,341.06 416.54,339.15 418.92,337.35 421.30,335.93 423.68,334.61 426.07,333.92 428.45,333.40 430.83,332.33 433.21,334.18 435.59,334.57 437.98,335.17 440.36,336.18 442.74,337.39 445.12,339.37 447.50,339.86 449.89,342.09 452.27,340.82 454.65,340.10 457.03,341.56 459.41,343.23 461.80,345.28 464.18,346.23 466.56,348.16 468.94,349.41 471.32,350.33 473.71,352.23 476.09,353.67 478.47,354.37 480.85,354.79 483.23,355.54 485.62,356.67 488.00,358.99 490.38,360.80 492.76,361.45 495.14,362.10 497.53,363.54 499.91,364.40 502.29,364.90 504.67,367.05 507.05,369.58 509.44,371.18 511.82,371.03 514.20,370.71 516.58,372.34 518.96,372.43 521.35,374.01 523.73,376.02 526.11,377.42 528.49,378.09 530.87,377.94 533.26,379.81 535.64,381.10 538.02,381.96 540.40,383.32 542.78,383.81 545.17,385.33 547.55,386.65 549.93,388.06 552.31,389.12 554.69,390.65 557.08,391.39 559.46,391.45 561.84,392.18 564.22,392.25 566.60,393.57 568.99,394.19 571.37,395.21 573.75,395.67 576.13,395.76 578.51,396.97 580.90,398.64 583.28,399.38 585.66,399.24 588.04,398.90 590.42,402.02 592.81,401.96 595.19,402.67 597.57,402.03 599.95,403.69 602.33,405.72 604.72,407.26 607.10,407.32 609.48,408.54 611.86,409.08 614.24,409.86 616.63,410.23 619.01,410.16 621.39,409.58 623.77,410.67 626.15,411.58 628.54,413.12 630.92,414.22 633.30,414.35" fill="none" stroke="#888" stroke-width="0.5"/>
<g fill="#fff" stroke="#ff2828" stroke-width="0.7">
<circle cx="397.48" cy="406.30" r="1.55"/>
<circle cx="399.86" cy="383.45" r="1.55"/>
<circle cx="402.25" cy="368.04" r="1.55"/>
<circle cx="404.63" cy="359.51" r="1.55"/>
<circle cx="407.01" cy="352.08" r="1.55"/>
<circle cx="409.39" cy="347.12" r="1.55"/>
<circle cx="411.77" cy="344.23" r="1.55"/>
<circle cx="414.16" cy="341.06" r="1.55"/>
<circle cx="416.54" cy="339.15" r="1.55"/>
<circle cx="418.92" cy="337.35" r="1.55"/>
<circle cx="421.30" cy="335.93" r="1.55"/>
<circle cx="423.68" cy="334.61" r="1.55"/>
<circle cx="426.07" cy="333.92" r="1.55"/>
<circle cx="428.45" cy="333.40" r="1.55"/>
<circle cx="430.83" cy="332.33" r="1.55"/>
<circle cx="433.21" cy="334.18" r="1.55"/>
<circle cx="435.59" cy="334.57" r="1.55"/>
<circle cx="437.98" cy="335.17" r="1.55"/>
<circle cx="440.36" cy="336.18" r="1.55"/>
<circle cx="442.74" cy="337.39" r="1.55"/>
<circle cx="445.12" cy="339.37" r="1.55"/>
<circle cx="447.50" cy="339.86" r="1.55"/>
<circle cx="449.89" cy="342.09" r="1.55"/>
<circle cx="452.27" cy="340.82" r="1.55"/>
<circle cx="454.65" cy="340.10" r="1.55"/>
<circle cx="457.03" cy="341.56" r="1.55"/>
<circle cx="459.41" cy="343.23" r="1.55"/>
<circle cx="461.80" cy="345.28" r="1.55"/>
<circle cx="464.18" cy="346.23" r="1.55"/>
<circle cx="466.56" cy="348.16" r="1.55"/>
<circle cx="468.94" cy="349.41" r="1.55"/>
<circle cx="471.32" cy="350.33" r="1.55"/>
<circle cx="473.71" cy="352.23" r="1.55"/>
<circle cx="476.09" cy="353.67" r="1.55"/>
<circle cx="478.47" cy="354.37" r="1.55"/>
<circle cx="480.85" cy="354.79" r="1.55"/>
<circle cx="483.23" cy="355.54" r="1.55"/>
<circle cx="485.62" cy="356.67" r="1.55"/>
<circle cx="488.00" cy="358.99" r="1.55"/>
<circle cx="490.38" cy="360.80" r="1.55"/>
<circle cx="492.76" cy="361.45" r="1.55"/>
<circle cx="495.14" cy="362.10" r="1.55"/>
<circle cx="497.53" cy="363.54" r="1.55"/>
<circle cx="499.91" cy="364.40" r="1.55"/>
<circle cx="502.29" cy="364.90" r="1.55"/>
<circle cx="504.67" cy="367.05" r="1.55"/>
<circle cx="507.05" cy="369.58" r="1.55"/>
<circle cx="509.44" cy="371.18" r="1.55"/>
<circle cx="511.82" cy="371.03" r="1.55"/>
<circle cx="514.20" cy="370.71" r="1.55"/>
<circle cx="516.58" cy="372.34" r="1.55"/>
<circle cx="518.96" cy="372.43" r="1.55"/>
<circle cx="521.35" cy="374.01" r="1.55"/>
<circle cx="523.73" cy="376.02" r="1.55"/>
<circle cx="526.11" cy="377.42" r="1.55"/>
<circle cx="528.49" cy="378.09" r="1.55"/>
<circle cx="530.87" cy="377.94" r="1.55"/>
<circle cx="533.26" cy="379.81" r="1.55"/>
<circle cx="535.64" cy="381.10" r="1.55"/>
<circle cx="538.02" cy="381.96" r="1.55"/>
<circle cx="540.40" cy="383.32" r="1.55"/>
<circle cx="542.78" cy="383.81" r="1.55"/>
<circle cx="545.17" cy="385.33" r="1.55"/>
<circle cx="547.55" cy="386.65" r="1.55"/>
<circle cx="549.93" cy="388.06" r="1.55"/>
<circle cx="552.31" cy="389.12" r="1.55"/>
<circle cx="554.69" cy="390.65" r="1.55"/>
<circle cx="557.08" cy="391.39" r="1.55"/>
<circle cx="559.46" cy="391.45" r="1.55"/>
<circle cx="561.84" cy="392.18" r="1.55"/>
<circle cx="564.22" cy="392.25" r="1.55"/>
<circle cx="566.60" cy="393.57" r="1.55"/>
<circle cx="568.99" cy="394.19" r="1.55"/>
<circle cx="571.37" cy="395.21" r="1.55"/>
<circle cx="573.75" cy="395.67" r="1.55"/>
<circle cx="576.13" cy="395.76" r="1.55"/>
<circle cx="578.51" cy="396.97" r="1.55"/>
<circle cx="580.90" cy="398.64" r="1.55"/>
<circle cx="583.28" cy="399.38" r="1.55"/>
<circle cx="585.66" cy="399.24" r="1.55"/>
<circle cx="588.04" cy="398.90" r="1.55"/>
<circle cx="590.42" cy="402.02" r="1.55"/>
<circle cx="592.81" cy="401.96" r="1.55"/>
<circle cx="595.19" cy="402.67" r="1.55"/>
<circle cx="597.57" cy="402.03" r="1.55"/>
<circle cx="599.95" cy="403.69" r="1.55"/>
<circle cx="602.33" cy="405.72" r="1.55"/>
<circle cx="604.72" cy="407.26" r="1.55"/>
<circle cx="607.10" cy="407.32" r="1.55"/>
<circle cx="609.48" cy="408.54" r="1.55"/>
<circle cx="611.86" cy="409.08" r="1.55"/>
<circle cx="614.24" cy="409.86" r="1.55"/>
<circle cx="616.63" cy="410.23" r="1.55"/>
<circle cx="619.01" cy="410.16" r="1.55"/>
<circle cx="621.39" cy="409.58" r="1.55"/>
<circle cx="623.77" cy="410.67" r="1.55"/>
<circle cx="626.15" cy="411.58" r="1.55"/>
<circle cx="628.54" cy="413.12" r="1.55"/>
<circle cx="630.92" cy="414.22" r="1.55"/>
<circle cx="633.30" cy="414.35" r="1.55"/>
</g></g>
<g stroke="#2a2a2a" stroke-width="0.8" fill="none">
<rect x="395.1" y="316.5" width="238.20" height="121.80"/>
<line x1="395.1" y1="316.50" x2="398.3" y2="316.50"/>
<line x1="633.3" y1="316.50" x2="630.0999999999999" y2="316.50"/>
<line x1="395.1" y1="344.88" x2="396.8" y2="344.88" stroke-width="0.7"/>
<line x1="633.3" y1="344.88" x2="631.5999999999999" y2="344.88" stroke-width="0.7"/>
<line x1="395.1" y1="337.73" x2="396.8" y2="337.73" stroke-width="0.7"/>
<line x1="633.3" y1="337.73" x2="631.5999999999999" y2="337.73" stroke-width="0.7"/>
<line x1="395.1" y1="332.66" x2="396.8" y2="332.66" stroke-width="0.7"/>
<line x1="633.3" y1="332.66" x2="631.5999999999999" y2="332.66" stroke-width="0.7"/>
<line x1="395.1" y1="328.72" x2="396.8" y2="328.72" stroke-width="0.7"/>
<line x1="633.3" y1="328.72" x2="631.5999999999999" y2="328.72" stroke-width="0.7"/>
<line x1="395.1" y1="325.51" x2="396.8" y2="325.51" stroke-width="0.7"/>
<line x1="633.3" y1="325.51" x2="631.5999999999999" y2="325.51" stroke-width="0.7"/>
<line x1="395.1" y1="322.79" x2="396.8" y2="322.79" stroke-width="0.7"/>
<line x1="633.3" y1="322.79" x2="631.5999999999999" y2="322.79" stroke-width="0.7"/>
<line x1="395.1" y1="320.43" x2="396.8" y2="320.43" stroke-width="0.7"/>
<line x1="633.3" y1="320.43" x2="631.5999999999999" y2="320.43" stroke-width="0.7"/>
<line x1="395.1" y1="318.36" x2="396.8" y2="318.36" stroke-width="0.7"/>
<line x1="633.3" y1="318.36" x2="631.5999999999999" y2="318.36" stroke-width="0.7"/>
<line x1="395.1" y1="357.10" x2="398.3" y2="357.10"/>
<line x1="633.3" y1="357.10" x2="630.0999999999999" y2="357.10"/>
<line x1="395.1" y1="385.48" x2="396.8" y2="385.48" stroke-width="0.7"/>
<line x1="633.3" y1="385.48" x2="631.5999999999999" y2="385.48" stroke-width="0.7"/>
<line x1="395.1" y1="378.33" x2="396.8" y2="378.33" stroke-width="0.7"/>
<line x1="633.3" y1="378.33" x2="631.5999999999999" y2="378.33" stroke-width="0.7"/>
<line x1="395.1" y1="373.26" x2="396.8" y2="373.26" stroke-width="0.7"/>
<line x1="633.3" y1="373.26" x2="631.5999999999999" y2="373.26" stroke-width="0.7"/>
<line x1="395.1" y1="369.32" x2="396.8" y2="369.32" stroke-width="0.7"/>
<line x1="633.3" y1="369.32" x2="631.5999999999999" y2="369.32" stroke-width="0.7"/>
<line x1="395.1" y1="366.11" x2="396.8" y2="366.11" stroke-width="0.7"/>
<line x1="633.3" y1="366.11" x2="631.5999999999999" y2="366.11" stroke-width="0.7"/>
<line x1="395.1" y1="363.39" x2="396.8" y2="363.39" stroke-width="0.7"/>
<line x1="633.3" y1="363.39" x2="631.5999999999999" y2="363.39" stroke-width="0.7"/>
<line x1="395.1" y1="361.03" x2="396.8" y2="361.03" stroke-width="0.7"/>
<line x1="633.3" y1="361.03" x2="631.5999999999999" y2="361.03" stroke-width="0.7"/>
<line x1="395.1" y1="358.96" x2="396.8" y2="358.96" stroke-width="0.7"/>
<line x1="633.3" y1="358.96" x2="631.5999999999999" y2="358.96" stroke-width="0.7"/>
<line x1="395.1" y1="397.70" x2="398.3" y2="397.70"/>
<line x1="633.3" y1="397.70" x2="630.0999999999999" y2="397.70"/>
<line x1="395.1" y1="426.08" x2="396.8" y2="426.08" stroke-width="0.7"/>
<line x1="633.3" y1="426.08" x2="631.5999999999999" y2="426.08" stroke-width="0.7"/>
<line x1="395.1" y1="418.93" x2="396.8" y2="418.93" stroke-width="0.7"/>
<line x1="633.3" y1="418.93" x2="631.5999999999999" y2="418.93" stroke-width="0.7"/>
<line x1="395.1" y1="413.86" x2="396.8" y2="413.86" stroke-width="0.7"/>
<line x1="633.3" y1="413.86" x2="631.5999999999999" y2="413.86" stroke-width="0.7"/>
<line x1="395.1" y1="409.92" x2="396.8" y2="409.92" stroke-width="0.7"/>
<line x1="633.3" y1="409.92" x2="631.5999999999999" y2="409.92" stroke-width="0.7"/>
<line x1="395.1" y1="406.71" x2="396.8" y2="406.71" stroke-width="0.7"/>
<line x1="633.3" y1="406.71" x2="631.5999999999999" y2="406.71" stroke-width="0.7"/>
<line x1="395.1" y1="403.99" x2="396.8" y2="403.99" stroke-width="0.7"/>
<line x1="633.3" y1="403.99" x2="631.5999999999999" y2="403.99" stroke-width="0.7"/>
<line x1="395.1" y1="401.63" x2="396.8" y2="401.63" stroke-width="0.7"/>
<line x1="633.3" y1="401.63" x2="631.5999999999999" y2="401.63" stroke-width="0.7"/>
<line x1="395.1" y1="399.56" x2="396.8" y2="399.56" stroke-width="0.7"/>
<line x1="633.3" y1="399.56" x2="631.5999999999999" y2="399.56" stroke-width="0.7"/>
<line x1="395.1" y1="438.30" x2="398.3" y2="438.30"/>
<line x1="633.3" y1="438.30" x2="630.0999999999999" y2="438.30"/>
<line x1="395.10" y1="438.3" x2="395.10" y2="435.1"/>
<line x1="395.10" y1="316.5" x2="395.10" y2="319.7"/>
<line x1="418.92" y1="438.3" x2="418.92" y2="436.5"/>
<line x1="418.92" y1="316.5" x2="418.92" y2="318.3"/>
<line x1="442.74" y1="438.3" x2="442.74" y2="435.1"/>
<line x1="442.74" y1="316.5" x2="442.74" y2="319.7"/>
<line x1="466.56" y1="438.3" x2="466.56" y2="436.5"/>
<line x1="466.56" y1="316.5" x2="466.56" y2="318.3"/>
<line x1="490.38" y1="438.3" x2="490.38" y2="435.1"/>
<line x1="490.38" y1="316.5" x2="490.38" y2="319.7"/>
<line x1="514.20" y1="438.3" x2="514.20" y2="436.5"/>
<line x1="514.20" y1="316.5" x2="514.20" y2="318.3"/>
<line x1="538.02" y1="438.3" x2="538.02" y2="435.1"/>
<line x1="538.02" y1="316.5" x2="538.02" y2="319.7"/>
<line x1="561.84" y1="438.3" x2="561.84" y2="436.5"/>
<line x1="561.84" y1="316.5" x2="561.84" y2="318.3"/>
<line x1="585.66" y1="438.3" x2="585.66" y2="435.1"/>
<line x1="585.66" y1="316.5" x2="585.66" y2="319.7"/>
<line x1="609.48" y1="438.3" x2="609.48" y2="436.5"/>
<line x1="609.48" y1="316.5" x2="609.48" y2="318.3"/>
<line x1="633.30" y1="438.3" x2="633.30" y2="435.1"/>
<line x1="633.30" y1="316.5" x2="633.30" y2="319.7"/>
</g>
<text x="392.30" y="317.20" font-size="12.8" text-anchor="end" fill="#000" >−3</text>
<text x="378.38" y="325.50" font-size="19.6" text-anchor="end" fill="#000" >10</text>
<text x="392.30" y="357.80" font-size="12.8" text-anchor="end" fill="#000" >−4</text>
<text x="378.38" y="366.10" font-size="19.6" text-anchor="end" fill="#000" >10</text>
<text x="392.30" y="398.40" font-size="12.8" text-anchor="end" fill="#000" >−5</text>
<text x="378.38" y="406.70" font-size="19.6" text-anchor="end" fill="#000" >10</text>
<text x="392.30" y="439.00" font-size="12.8" text-anchor="end" fill="#000" >−6</text>
<text x="378.38" y="447.30" font-size="19.6" text-anchor="end" fill="#000" >10</text>
<text x="394.90" y="458.60" font-size="19.6" text-anchor="middle" fill="#000" >0. 0</text>
<text x="442.54" y="458.60" font-size="19.6" text-anchor="middle" fill="#000" >0. 2</text>
<text x="490.18" y="458.60" font-size="19.6" text-anchor="middle" fill="#000" >0. 4</text>
<text x="537.82" y="458.60" font-size="19.6" text-anchor="middle" fill="#000" >0. 6</text>
<text x="585.46" y="458.60" font-size="19.6" text-anchor="middle" fill="#000" >0. 8</text>
<text x="633.10" y="458.60" font-size="19.6" text-anchor="middle" fill="#000" >1. 0</text>
<text transform="translate(79.35,430.80) scale(1.006,1.0)" font-size="20.0">S</text>
<text transform="translate(91.20,430.80) scale(1.049,1.0)" font-size="20.0">t</text>
<text transform="translate(100.36,430.80) scale(1.081,1.0)" font-size="20.0">e</text>
<text transform="translate(109.46,430.80) scale(1.045,1.0)" font-size="20.0">p</text>
<text transform="translate(118.72,430.80) scale(0.989,1.0)" font-size="20.0">=</text>
<text transform="translate(130.78,430.80) scale(0.696,1.0)" font-size="20.0">1</text>
<text transform="translate(138.57,430.80) scale(1.085,1.0)" font-size="20.0">0</text>
<text transform="translate(397.79,430.80) scale(1.053,1.0)" font-size="20.0">S</text>
<text transform="translate(410.49,430.80) scale(1.068,1.0)" font-size="20.0">t</text>
<text transform="translate(419.12,430.80) scale(1.121,1.0)" font-size="20.0">e</text>
<text transform="translate(428.97,430.80) scale(1.023,1.0)" font-size="20.0">p</text>
<text transform="translate(438.44,430.80) scale(0.967,1.0)" font-size="20.0">=</text>
<text transform="translate(449.63,430.80) scale(0.724,1.0)" font-size="20.0">1</text>
<text transform="translate(457.29,430.80) scale(1.062,1.0)" font-size="20.0">0</text>
<text transform="translate(467.76,422.70) scale(0.989,1.0)" font-size="12.8">5</text>
<text transform="translate(36.10,395.34) rotate(-90) scale(0.551,1)" font-size="27.5">M</text>
<text transform="translate(36.10,382.75) rotate(-90) scale(0.953,1)" font-size="27.5">S</text>
<text transform="translate(36.10,368.41) rotate(-90) scale(0.765,1)" font-size="27.5">E</text>
<text transform="translate(353.50,395.03) rotate(-90) scale(0.543,1)" font-size="27.5">M</text>
<text transform="translate(353.50,382.79) rotate(-90) scale(1.030,1)" font-size="27.5">S</text>
<text transform="translate(353.50,367.87) rotate(-90) scale(0.717,1)" font-size="27.5">E</text>
<g class="big">
<text transform="translate(185.19,477.50) scale(1.129,1.0)" font-size="22.3">p</text>
<text transform="translate(501.87,477.30) scale(1.200,1.0)" font-size="22.3">p</text>
</g>
</svg>
</body></html>
